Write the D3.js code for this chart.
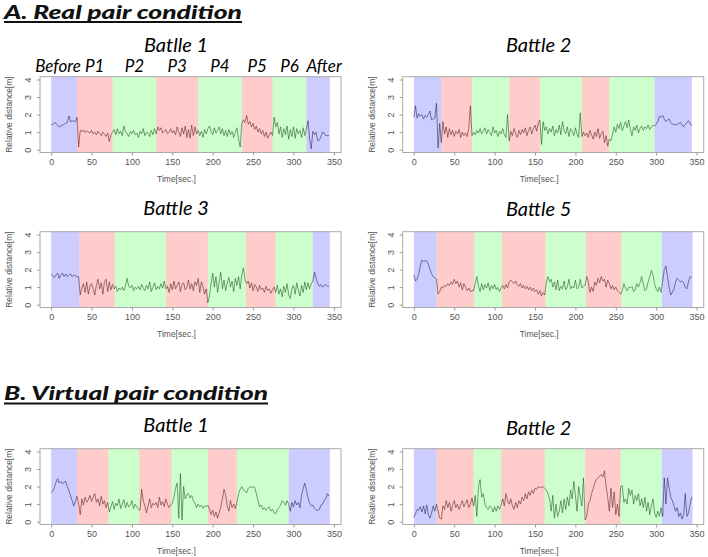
<!DOCTYPE html>
<html>
<head>
<meta charset="utf-8">
<script src="https://cdn.jsdelivr.net/npm/d3@7"></script>
<style>
  body { margin: 0; background: #fff; }
  svg { display: block; }
  .tick text { font-family: "Liberation Sans", Arial, sans-serif; font-size: 9px; fill: #555; }
  .tick line { stroke: #999; }
  .axis-title { font-family: "Liberation Sans", Arial, sans-serif; font-size: 8.5px; fill: #555; }
  .panel-title { font-family: Lato, "Open Sans", sans-serif; font-style: italic; font-size: 20px; fill: #000; }
  .phase-name { font-family: Lato, "Open Sans", sans-serif; font-style: italic; font-size: 17px; fill: #000; }
  .section-title { font-family: Lato, sans-serif; font-style: italic; font-weight: 900; font-size: 19px; fill: #111; }
</style>
</head>
<body>
<div id="chart"></div>
<script>
/* * * * * * * * * * * * * * * * *
*   Relative distance per battle  *
* * * * * * * * * * * * * * * * */

// one sample every 2 s, t = 0 ... 344
const timeStep = 2;

const phaseNames = ["Before", "P1", "P2", "P3", "P4", "P5", "P6", "After"];
const phaseKinds = ["rest", "odd", "even", "odd", "even", "odd", "even", "rest"];

const xTicks = [0, 50, 100, 150, 200, 250, 300, 350];
const yTicks = [0, 1, 2, 3, 4];

// phase boundaries [sec.]
const phasesRealB1 = [0, 32, 76, 130, 182, 236, 274, 316, 345];
const phasesRealB2 = [0, 34, 72, 118, 156, 208, 242, 298, 344];
const phasesRealB3 = [0, 35, 79, 142, 194, 241, 278, 324, 345];
const phasesRealB5 = [0, 28, 75, 109, 163, 213, 257, 307, 345];
const phasesVirtB1 = [0, 32, 71, 109, 149, 194, 230, 294, 345];
const phasesVirtB2 = [0, 28, 74, 108, 162, 212, 256, 307, 345];

// relative distance [m]
const realB1 = [
  1.45,1.42,1.55,1.5,1.38,1.3,1.35,1.4,1.45,1.5,1.55,1.92,1.6,1.65,1.62,1.6,1.85,
  0.15,
  1.1,1.05,1.12,0.98,1.08,1.02,0.95,1.1,0.9,1.0,0.85,1.05,0.92,0.8,1.0,0.88,0.75,0.95,0.45,0.85,1.0,
  1.15,0.85,1.2,0.9,1.05,0.8,1.35,1.0,0.95,0.75,1.05,0.9,1.1,0.85,0.95,0.7,1.05,0.9,1.2,0.8,1.0,0.95,0.75,1.1,0.85,1.2,0.9,
  1.3,1.1,1.25,0.95,1.05,1.15,0.9,1.0,1.2,0.95,1.1,0.85,1.3,1.0,0.75,1.25,0.9,1.35,0.7,1.15,0.65,1.4,0.8,1.3,0.9,1.1,
  0.8,1.05,0.7,1.15,0.9,1.2,1.35,1.05,0.85,1.25,0.95,1.1,1.3,0.9,1.2,0.8,1.1,0.75,1.15,0.85,1.05,0.7,1.0,1.25,0.6,0.15,1.5,
  1.7,1.55,1.95,1.45,1.6,1.3,1.5,1.15,1.35,1.0,1.2,0.9,1.1,0.75,1.0,0.65,0.85,1.0,0.8,
  1.85,1.3,1.55,0.9,1.3,0.7,1.2,0.85,1.35,0.6,1.15,0.75,1.3,0.65,1.2,0.9,1.1,0.7,1.25,0.8,1.2,
  1.65,0.6,0.05,1.05,0.85,1.0,0.5,0.55,0.75,1.0,0.95,0.8,0.8,0.8
];
const realB2 = [
  1.85,2.5,1.8,2.05,1.9,2.0,1.75,1.95,1.85,2.0,2.2,1.7,1.75,1.8,2.65,0.1,1.5,0.4,
  1.6,0.9,1.3,0.7,1.2,0.85,1.1,0.75,1.05,0.9,1.15,0.7,1.0,0.8,0.95,0.75,1.2,2.5,0.8,
  1.0,0.85,1.1,0.95,1.2,0.9,1.05,1.25,0.9,1.15,1.0,0.8,1.3,0.95,1.1,0.75,1.05,0.9,1.2,0.85,0.7,2.0,0.5,
  1.05,0.8,1.2,0.9,0.7,1.1,0.85,1.15,0.95,1.25,0.8,1.1,1.3,0.9,1.2,1.4,1.05,1.5,1.7,
  0.3,1.6,1.1,1.3,0.9,1.2,1.0,1.35,0.8,1.15,0.95,1.4,0.85,1.6,1.1,0.9,1.3,0.75,1.2,1.05,0.8,1.25,0.9,0.7,2.1,0.75,
  1.0,0.8,0.95,0.7,1.1,0.85,0.6,1.0,0.75,1.2,0.65,0.9,1.05,0.4,0.8,0.2,0.6,
  0.5,0.9,1.3,1.0,1.45,1.2,1.55,1.1,1.35,1.6,1.25,1.7,1.15,0.8,1.3,1.1,1.4,0.95,1.2,1.35,1.1,1.3,1.2,1.4,1.15,1.3,1.4,1.35,
  1.45,1.6,1.9,1.85,1.95,1.75,1.6,1.7,1.75,1.55,1.45,1.45,1.4,1.45,1.5,1.55,1.4,1.3,1.45,1.55,1.65,1.5,1.35
];
const realB3 = [
  1.75,1.65,1.55,1.7,1.8,1.5,1.7,1.8,1.6,1.75,1.6,1.7,1.75,1.6,1.7,1.65,1.6,1.6,
  0.55,0.95,1.2,0.7,1.3,0.6,1.05,1.2,0.9,0.55,1.1,1.45,0.9,1.25,0.6,1.3,1.45,0.75,1.3,0.85,1.15,0.9,
  1.05,0.75,0.95,0.85,1.0,0.8,1.1,1.5,1.05,0.95,1.1,0.8,1.0,0.9,1.05,0.85,1.15,0.95,0.8,1.1,0.9,1.3,0.75,1.0,1.25,0.85,1.05,0.9,1.2,0.95,1.35,0.9,
  1.05,0.7,1.2,0.85,1.35,0.9,1.1,1.3,0.75,1.15,1.25,0.85,1.0,1.4,0.9,1.2,0.8,1.3,1.1,1.5,0.7,1.3,1.0,0.6,0.9,0.1,
  0.5,1.2,1.8,1.0,1.6,0.7,1.3,1.85,0.9,1.4,0.8,1.25,1.55,1.0,1.35,0.75,1.5,1.1,1.6,0.9,1.7,2.1,1.4,
  1.2,1.35,0.95,1.25,0.8,1.15,1.0,0.75,1.1,0.85,0.95,0.7,1.05,0.8,0.9,0.65,0.85,1.0,0.7,
  1.1,0.6,0.9,0.45,1.05,0.7,1.2,0.55,0.35,0.9,1.1,0.6,1.25,0.8,0.5,1.1,0.7,1.3,0.85,1.25,0.9,1.2,1.35,
  1.85,1.5,1.2,1.05,1.15,1.0,1.1,1.15,1.05,1.05
];
const realB5 = [
  1.7,1.35,1.45,1.75,2.2,2.55,2.45,2.5,2.5,2.3,2.0,1.75,1.6,1.55,1.45,
  0.6,0.75,1.0,0.95,1.1,1.05,1.2,1.1,1.3,1.15,1.45,1.2,1.35,1.0,1.25,0.85,1.2,1.0,0.8,0.95,0.75,0.8,0.8,
  1.2,1.6,1.05,0.75,1.2,0.85,1.15,0.95,1.25,0.8,1.1,0.9,1.15,0.85,1.0,0.75,0.95,
  1.1,0.9,1.15,0.95,1.3,1.4,1.3,1.2,1.35,1.15,1.05,1.2,0.95,1.1,0.9,1.05,0.85,1.0,0.8,0.95,0.75,0.85,0.6,0.8,0.5,0.7,0.55,
  1.3,1.6,1.3,1.45,1.0,1.3,0.85,1.4,0.8,1.05,0.9,1.35,0.85,1.0,1.45,0.9,1.05,0.95,1.4,0.9,1.0,1.45,0.95,1.05,1.1,
  1.6,1.3,0.7,1.0,0.75,1.3,1.1,1.5,1.25,1.6,1.35,1.45,1.0,1.4,1.2,0.9,1.1,0.85,1.0,0.8,0.7,0.6,
  0.8,1.2,0.95,0.8,1.0,0.95,1.05,0.75,0.85,1.2,1.0,1.25,1.6,1.2,0.8,0.9,1.3,1.6,1.95,1.7,1.2,0.9,0.75,1.0,0.7,
  1.35,2.0,2.2,1.6,1.0,0.55,0.7,0.9,1.3,1.5,1.4,1.3,1.35,1.25,1.0,0.9,1.3,1.6,1.55
];
const virtB1 = [
  1.65,1.75,1.95,2.25,2.45,2.2,2.3,2.15,2.25,2.3,2.0,1.75,1.5,1.2,0.9,1.15,1.45,
  1.0,0.4,1.3,0.95,1.4,1.1,1.25,1.5,1.15,1.4,1.6,1.1,1.3,0.9,1.45,1.0,1.2,0.8,1.1,
  0.55,0.85,1.15,0.7,1.05,0.9,1.3,0.75,1.0,1.25,0.8,1.1,0.85,0.95,1.2,0.75,1.0,0.85,0.7,0.65,
  1.85,1.2,0.9,0.5,0.9,1.3,0.8,1.05,0.95,1.1,0.8,1.4,0.95,1.15,0.85,1.3,1.0,0.8,0.95,1.05,
  1.4,1.9,2.2,0.2,2.75,0.1,2.0,1.3,1.55,1.6,1.35,1.5,1.2,1.05,0.8,1.0,0.85,0.95,0.75,0.9,0.85,0.95,
  0.7,0.4,0.65,0.3,0.55,0.2,0.5,0.85,1.3,1.85,1.5,0.9,0.6,1.2,0.8,1.0,0.75,1.1,
  1.6,1.85,2.0,1.8,1.75,1.65,1.9,2.0,1.95,2.0,1.95,1.6,1.2,0.85,0.95,0.7,0.8,0.65,0.75,0.85,0.6,0.7,0.5,0.45,0.7,0.8,0.95,1.2,1.1,0.95,1.2,1.0,
  0.6,1.1,0.85,1.2,0.95,1.1,0.8,1.5,1.9,2.2,1.8,1.35,1.05,0.9,0.95,0.75,0.65,0.65,0.7,0.95,1.0,1.2,1.3,1.6,1.45
];
const virtB2 = [
  0.25,0.45,0.7,0.65,0.85,0.55,0.9,0.45,0.95,0.4,0.2,0.5,0.9,0.6,1.0,
  0.6,0.2,0.15,0.9,0.7,1.2,0.8,1.1,0.6,0.95,1.2,0.8,1.0,0.7,0.95,1.2,0.85,1.05,1.25,0.8,1.0,1.35,0.9,
  1.5,0.3,2.0,2.4,1.4,1.6,1.0,0.8,0.7,0.9,0.8,0.55,0.85,0.6,0.9,0.7,0.95,
  1.3,0.9,1.6,1.2,1.0,1.3,0.9,0.7,1.1,0.8,1.2,1.0,1.4,1.2,1.6,1.3,1.7,1.5,1.8,1.6,1.9,1.85,2.0,1.95,1.95,2.0,1.9,
  1.8,1.6,1.3,0.6,1.5,0.2,1.0,0.3,0.6,1.2,0.5,1.3,0.7,1.4,0.9,1.8,1.3,2.3,1.5,0.6,2.0,1.4,0.9,2.5,0.1,
  0.3,1.0,1.2,1.6,1.9,2.2,2.4,2.5,2.6,2.7,2.55,2.9,2.0,1.4,0.6,1.9,0.8,1.7,0.4,1.0,0.3,2.0,
  2.05,1.1,1.3,1.0,1.9,1.5,1.8,1.0,1.5,1.2,1.6,0.9,1.3,0.8,1.4,0.6,1.1,0.4,0.9,1.3,0.5,0.25,0.6,0.3,0.8,
  0.3,2.5,1.0,2.5,1.9,1.4,1.2,0.9,0.6,0.8,0.3,0.5,0.15,0.4,1.6,0.3,0.5,1.0,1.4
];

// panel layout (page coordinates of each plot box)
const panels = [
  {title: "Batlle 1", values: realB1, phases: phasesRealB1, left: 40,    top: 76.7,  titleY: 51.5, names: true},
  {title: "Battle 2", values: realB2, phases: phasesRealB2, left: 402.7, top: 76.7,  titleY: 51.5},
  {title: "Battle 3", values: realB3, phases: phasesRealB3, left: 40,    top: 231.7, titleY: 215},
  {title: "Battle 5", values: realB5, phases: phasesRealB5, left: 402.7, top: 231.7, titleY: 216},
  {title: "Battle 1", values: virtB1, phases: phasesVirtB1, left: 40,    top: 448.7, titleY: 432},
  {title: "Battle 2", values: virtB2, phases: phasesVirtB2, left: 402.7, top: 448.7, titleY: 435}
];

const sections = [
  {text: "A. Real pair condition", y: 18.5, width: 238},
  {text: "B. Virtual pair condition", y: 400, width: 264}
];

const bandColor = {rest: "#0000ff", odd: "#ff0000", even: "#00ff00"};

const W = 301, H = 75.8;

const svg = d3.select("#chart").append("svg")
    .attr("width", 708)
    .attr("height", 557);

// section headings
sections.forEach(function(s) {
    svg.append("text")
        .attr("class", "section-title")
        .attr("x", 4)
        .attr("y", s.y)
        .attr("textLength", s.width)
        .attr("lengthAdjust", "spacingAndGlyphs")
        .text(s.text);
    svg.append("line")
        .attr("x1", 4).attr("x2", 4 + s.width)
        .attr("y1", s.y + 3.5).attr("y2", s.y + 3.5)
        .attr("stroke", "#111")
        .attr("stroke-width", 1.8);
});

// R style axis ranges (4% padding)
const x = d3.scaleLinear().domain([-13.8, 358.8]).range([0, W]);
const y = d3.scaleLinear().domain([-0.16, 4.16]).range([H, 0]);

panels.forEach(function(p) {
    let g = svg.append("g")
        .attr("transform", "translate(" + p.left + "," + p.top + ")");

    // title
    svg.append("text")
        .attr("class", "panel-title")
        .attr("x", p.left + W / 2 - 14.5)
        .attr("y", p.titleY)
        .attr("text-anchor", "middle")
        .text(p.title);

    let data = p.values.map(function(v, i) {
        return {t: i * timeStep, v: v};
    });

    // time series
    let line = d3.line()
        .x(function(d) { return x(d.t); })
        .y(function(d) { return y(d.v); });

    g.append("path")
        .datum(data)
        .attr("d", line)
        .attr("fill", "none")
        .attr("stroke", "#222")
        .attr("stroke-width", 0.55);

    // phase bands, drawn transparent over the line
    let bands = phaseKinds.map(function(k, i) {
        return {kind: k, name: phaseNames[i], start: p.phases[i], end: p.phases[i + 1]};
    });

    g.selectAll("rect.band")
        .data(bands)
        .enter()
        .append("rect")
        .attr("class", "band")
        .attr("x", function(d) { return x(d.start); })
        .attr("width", function(d) { return x(d.end) - x(d.start); })
        .attr("y", 0)
        .attr("height", H)
        .attr("fill", function(d) { return bandColor[d.kind]; })
        .attr("fill-opacity", 0.2);

    if (p.names) {
        // shift the outer labels a bit so they don't collide
        let nudge = {Before: -6, After: 6};
        svg.selectAll("text.phase-name")
            .data(bands)
            .enter()
            .append("text")
            .attr("class", "phase-name")
            .attr("x", function(d) { return p.left + x((d.start + d.end) / 2) + (nudge[d.name] || 0); })
            .attr("y", 71.5)
            .attr("text-anchor", "middle")
            .text(function(d) { return d.name; });
    }

    // box
    g.append("rect")
        .attr("width", W)
        .attr("height", H)
        .attr("fill", "none")
        .attr("stroke", "#aaa")
        .attr("stroke-width", 1);

    // axes
    let xAxis = g.append("g")
        .attr("transform", "translate(0," + H + ")")
        .call(d3.axisBottom(x).tickValues(xTicks).tickSize(3).tickPadding(3));
    xAxis.select(".domain").remove();

    let yAxis = g.append("g")
        .call(d3.axisLeft(y).tickValues(yTicks).tickFormat(d3.format("d")).tickSize(3).tickPadding(3));
    yAxis.select(".domain").remove();
    yAxis.selectAll(".tick text")
        .attr("transform", "rotate(-90)")
        .attr("text-anchor", "middle")
        .attr("x", 0)
        .attr("y", -9)
        .attr("dy", 0);

    g.append("text")
        .attr("class", "axis-title")
        .attr("x", W / 2 - 14)
        .attr("y", H + 30)
        .attr("text-anchor", "middle")
        .text("Time[sec.]");

    g.append("text")
        .attr("class", "axis-title")
        .attr("transform", "translate(-28," + (H / 2) + ") rotate(-90)")
        .attr("text-anchor", "middle")
        .text("Relative distance[m]");
});
</script>
</body>
</html>
